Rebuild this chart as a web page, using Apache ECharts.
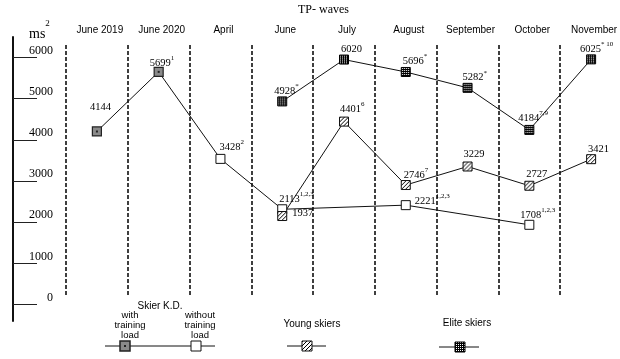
<!DOCTYPE html>
<html><head><meta charset="utf-8">
<script src="https://cdn.jsdelivr.net/npm/echarts@6/dist/echarts.min.js"></script>
<style>html,body{margin:0;padding:0;background:#fff}#c{width:620px;height:359px}</style>
</head><body><div id="c"></div>
<script>
// ---------- data ----------
const categories = ['June 2019', 'June 2020', 'April', 'June', 'July', 'August', 'September', 'October', 'November'];
const yTicks = [0, 1000, 2000, 3000, 4000, 5000, 6000];
const kdWithLoad    = [4144, 5699, null, null, null, null, null, null, null];
const kdWithoutLoad = [null, null, 3428, 2113, null, 2221, null, 1708, null];
const kdNotes       = ['', '1', '2', '1,2,3', '', '1,2,3', '', '1,2,3', ''];
const youngSkiers   = [null, null, null, 1937, 4401, 2746, 3229, 2727, 3421];
const youngNotes    = ['', '', '', '', '6', '7', '', '', ''];
const eliteSkiers   = [null, null, null, 4928, 6020, 5696, 5282, 4184, 6025];
const eliteNotes    = ['', '', '', '*', '', '*', '*', '7,9', '* 10'];

// ---------- label placement (style) ----------
const DEF = [-3, -12];
const kdLabelOffsets    = [[-7, -26], [-9, -10], [-1, -13.5], [-3, -11.6], null, [9, -5.7], null, [-9, -10.7], null];
const youngLabelOffsets = [null, null, null, [10, -4.7], [-4, -13.7], [-2, -11], [-4, -13.3], [-3, -13.3], [-3, -11]];
const eliteLabelOffsets = [null, null, null, [-8, -11.7], [-3, -11.7], [-3, -12], [-5, -11.6], [-11, -13.3], [-11, -11.7]];

// ---------- patterns ----------
const SYM = 9;
function tile(w, h, draw) {
  const c = document.createElement('canvas'); c.width = w; c.height = h;
  const ctx = c.getContext('2d'); draw(ctx); return c;
}
const hatchTile = tile(4, 4, ctx => { ctx.fillStyle = '#fff'; ctx.fillRect(0,0,4,4); ctx.fillStyle = '#000';
  ctx.fillRect(3,0,1,1); ctx.fillRect(2,1,1,1); ctx.fillRect(1,2,1,1); ctx.fillRect(0,3,1,1); });
const eliteTile = tile(2, 2, ctx => { ctx.fillStyle = '#000'; ctx.fillRect(0,0,2,2); ctx.fillStyle = '#fff'; ctx.fillRect(0,0,1,1); });
const kdTile = tile(12, 12, ctx => { ctx.fillStyle = '#8a8a8a'; ctx.fillRect(0,0,12,12); ctx.fillStyle = '#222';
  ctx.fillRect(0,0,1,1); ctx.fillRect(11,0,1,1); ctx.fillRect(0,11,1,1); ctx.fillRect(11,11,1,1); });
const sc = 2 / SYM;
function symPat(t) { return { image: t, repeat: 'repeat', scaleX: sc, scaleY: sc }; }
function flatPat(t, x, y) { return { image: t, repeat: 'repeat', x: x || 0, y: y || 0 }; }

const styleKdWith = { color: symPat(kdTile), borderColor: '#222', borderWidth: 1.2 };
const styleKdWithout = { color: '#fff', borderColor: '#111', borderWidth: 1 };
const styleYoung = { color: symPat(hatchTile), borderColor: '#111', borderWidth: 1 };
const styleElite = { color: symPat(eliteTile), borderColor: '#000', borderWidth: 1 };

function fmt(v, note) { return note ? '{n|' + v + '}{s|' + note + '}' : '{n|' + v + '}'; }
function build(values, notes, offsets, styleFor) {
  return values.map((v, i) => v == null ? null : {
    value: v,
    itemStyle: styleFor(i),
    label: { offset: offsets[i] || DEF, formatter: fmt(v, notes[i]) }
  });
}
const kdValues = kdWithLoad.map((v, i) => v != null ? v : kdWithoutLoad[i]);
const kdData = build(kdValues, kdNotes, kdLabelOffsets, i => kdWithLoad[i] != null ? styleKdWith : styleKdWithout);
const youngData = build(youngSkiers, youngNotes, youngLabelOffsets, () => styleYoung);
const eliteData = build(eliteSkiers, eliteNotes, eliteLabelOffsets, () => styleElite);

const SERIF = '"Liberation Serif", "Times New Roman", serif';
const SANS = '"Liberation Sans", Arial, sans-serif';
const labelCfg = {
  show: true, position: 'inside', align: 'left', verticalAlign: 'middle', color: '#000',
  rich: {
    n: { fontFamily: SERIF, fontSize: 10.5, color: '#000', lineHeight: 14, verticalAlign: 'bottom' },
    s: { fontFamily: SERIF, fontSize: 7, color: '#000', lineHeight: 8, verticalAlign: 'top' }
  }
};
function lineSeries(name, data) {
  return {
    name, type: 'line', data, xAxisIndex: 0, yAxisIndex: 0, connectNulls: true,
    symbol: 'rect', symbolSize: SYM, showAllSymbol: true,
    lineStyle: { color: '#111', width: 1 },
    label: labelCfg, z: 3
  };
}

const chart = echarts.init(document.getElementById('c'), null, { renderer: 'canvas' });
chart.setOption({
  animation: false,
  backgroundColor: '#fff',
  title: { text: 'TP- waves', left: 293, top: -1, textStyle: { fontFamily: SERIF, fontSize: 12, fontWeight: 'normal', color: '#000' } },
  grid: [
    { left: 66, width: 556, top: 45, height: 251, outerBoundsMode: 'none', containLabel: false },
    { left: 13, width: 20, top: 37, height: 284, outerBoundsMode: 'none', containLabel: false }
  ],
  xAxis: [
    { type: 'category', gridIndex: 0, data: categories, position: 'top', boundaryGap: true,
      axisLine: { show: false }, axisTick: { show: false },
      axisLabel: { fontFamily: SANS, fontSize: 10, color: '#000', margin: 10, padding: [0, 0, 0, 6], interval: 0 },
      splitLine: { show: true, lineStyle: { color: '#000', width: 1.5, type: [4, 2] } } },
    { type: 'value', gridIndex: 1, show: false }
  ],
  yAxis: [
    { type: 'value', gridIndex: 0, min: -150, max: 6400, show: false },
    { type: 'value', gridIndex: 1, min: -400, max: 6500,
      axisLine: { show: true, lineStyle: { color: '#111', width: 2 } },
      axisTick: { show: true, inside: true, length: 24, customValues: yTicks, lineStyle: { color: '#222', width: 1 } },
      axisLabel: { inside: true, align: 'right', verticalAlign: 'bottom', margin: 40, customValues: yTicks,
        formatter: v => String(v),
        fontFamily: SERIF, fontSize: 12, color: '#000', padding: [0, 0, 1, 0] },
      splitLine: { show: false } }
  ],
  graphic: [
    { type: 'text', left: 29, top: 19, style: { text: '{a|ms}{b|2}', rich: {
        a: { fontFamily: SERIF, fontSize: 14, lineHeight: 22, verticalAlign: 'bottom', fill: '#000' },
        b: { fontFamily: SERIF, fontSize: 9, lineHeight: 8, verticalAlign: 'top', fill: '#000' } } } },
    // legend
    { type: 'text', x: 160, y: 306, style: { text: 'Skier K.D.', fontFamily: SANS, fontSize: 10, fill: '#000', align: 'center', verticalAlign: 'middle' } },
    { type: 'text', x: 130, y: 325, style: { text: 'with\ntraining\nload', fontFamily: SANS, fontSize: 9.5, lineHeight: 10, fill: '#000', align: 'center', verticalAlign: 'middle' } },
    { type: 'text', x: 200, y: 325, style: { text: 'without\ntraining\nload', fontFamily: SANS, fontSize: 9.5, lineHeight: 10, fill: '#000', align: 'center', verticalAlign: 'middle' } },
    { type: 'line', shape: { x1: 105, y1: 346, x2: 215, y2: 346 }, style: { stroke: '#111', lineWidth: 1 } },
    { type: 'rect', shape: { x: 120, y: 341, width: 10, height: 10 }, style: { fill: flatPat(kdTile, 125, 346), stroke: '#222', lineWidth: 1.5 } },
    { type: 'rect', shape: { x: 191, y: 341, width: 10, height: 10 }, style: { fill: '#fff', stroke: '#111', lineWidth: 1 } },
    { type: 'text', x: 312, y: 324, style: { text: 'Young skiers', fontFamily: SANS, fontSize: 10, fill: '#000', align: 'center', verticalAlign: 'middle' } },
    { type: 'line', shape: { x1: 287, y1: 346, x2: 326, y2: 346 }, style: { stroke: '#111', lineWidth: 1 } },
    { type: 'rect', shape: { x: 302, y: 341, width: 10, height: 10 }, style: { fill: flatPat(hatchTile), stroke: '#111', lineWidth: 1 } },
    { type: 'text', x: 467, y: 323, style: { text: 'Elite skiers', fontFamily: SANS, fontSize: 10, fill: '#000', align: 'center', verticalAlign: 'middle' } },
    { type: 'line', shape: { x1: 439, y1: 347, x2: 479, y2: 347 }, style: { stroke: '#111', lineWidth: 1 } },
    { type: 'rect', shape: { x: 455, y: 342, width: 10, height: 10 }, style: { fill: flatPat(eliteTile), stroke: '#000', lineWidth: 1 } }
  ],
  series: [
    lineSeries('Skier K.D.', kdData),
    lineSeries('Young skiers', youngData),
    lineSeries('Elite skiers', eliteData)
  ]
});
</script></body></html>
